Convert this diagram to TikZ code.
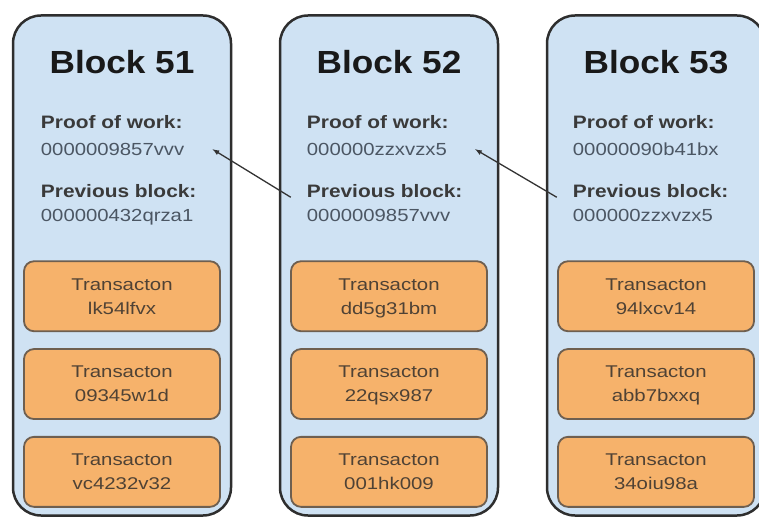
\documentclass[tikz,border=0pt]{standalone}
\usepackage{xcolor}
\usepackage{fontspec}
\setmainfont{Liberation Sans}[FakeStretch=1.1]
\newfontfamily\fieldfont{Liberation Sans}[FakeStretch=1.16]
\newfontfamily\txfont{Liberation Sans}[FakeStretch=1.2]
\usepackage{tikz}
\usetikzlibrary{positioning}
\usetikzlibrary{arrows}
\usetikzlibrary{calc}

\definecolor{blockblue}{HTML}{CFE2F3}
\definecolor{txorange}{HTML}{F6B26B}
\definecolor{txedge}{HTML}{6E5F50}
\definecolor{txtext}{HTML}{4F4235}
\definecolor{namegray}{HTML}{3A3A3A}
\definecolor{valgray}{HTML}{4B5663}

\begin{document}
\begin{tikzpicture}[x=1pt, y=1pt,
	block/.style = {draw=black!82, line width=2.5pt, fill=blockblue, rounded corners=28pt,
		minimum width=218pt, minimum height=500pt, inner sep=0pt},
	blocktitle/.style = {font=\fontsize{32}{36}\selectfont\bfseries, text=black!90, anchor=base, inner sep=0pt},
	fieldname/.style = {font=\fieldfont\fontsize{18}{20}\selectfont\bfseries, text=namegray, anchor=base west, inner sep=0pt},
	fieldval/.style = {font=\fieldfont\fontsize{17.5}{20}\selectfont, text=valgray, anchor=base west, inner sep=0pt},
	tx/.style = {draw=txedge, line width=1.8pt, fill=txorange, rounded corners=10pt,
		minimum width=196pt, minimum height=70pt, align=center, text depth=0pt,
		font=\txfont\fontsize{17}{24}\selectfont, text=txtext},
	prevlink/.style = {-latex, line width=1.3pt, draw=black!80}
]
\useasboundingbox (0,0) rectangle (759,520);
\clip (0,0) rectangle (759,520);

\node[block] (blk51) at (122,254.5) {};
\node[block] (blk52) at (389,254.5) {};
\node[block] (blk53) at (656,254.5) {};

\node[blocktitle] (title51) at ($(blk51.north)+(0,-59)$) {Block 51};
\node[blocktitle] (title52) at ($(blk52.north)+(0,-59)$) {Block 52};
\node[blocktitle] (title53) at ($(blk53.north)+(0,-59)$) {Block 53};

\node[fieldname] (pw51) at ($(blk51.north west)+(29,-114)$) {Proof of work:};
\node[fieldval] (pwv51) at ($(blk51.north west)+(29,-141)$) {0000009857vvv};
\node[fieldname] (pb51) at ($(blk51.north west)+(29,-183)$) {Previous block:};
\node[fieldval] (pbv51) at ($(blk51.north west)+(29,-207)$) {000000432qrza1};

\node[fieldname] (pw52) at ($(blk52.north west)+(28,-114)$) {Proof of work:};
\node[fieldval] (pwv52) at ($(blk52.north west)+(28,-141)$) {000000zzxvzx5};
\node[fieldname] (pb52) at ($(blk52.north west)+(28,-183)$) {Previous block:};
\node[fieldval] (pbv52) at ($(blk52.north west)+(28,-207)$) {0000009857vvv};

\node[fieldname] (pw53) at ($(blk53.north west)+(27,-114)$) {Proof of work:};
\node[fieldval] (pwv53) at ($(blk53.north west)+(27,-141)$) {00000090b41bx};
\node[fieldname] (pb53) at ($(blk53.north west)+(27,-183)$) {Previous block:};
\node[fieldval] (pbv53) at ($(blk53.north west)+(27,-207)$) {000000zzxvzx5};

\node[tx] (tx51a) at ($(blk51.north)+(0,-282)$) {Transacton\\lk54lfvx};
\node[tx, below=16pt of tx51a] (tx51b) {Transacton\\09345w1d};
\node[tx, below=16pt of tx51b] (tx51c) {Transacton\\vc4232v32};

\node[tx] (tx52a) at ($(blk52.north)+(0,-282)$) {Transacton\\dd5g31bm};
\node[tx, below=16pt of tx52a] (tx52b) {Transacton\\22qsx987};
\node[tx, below=16pt of tx52b] (tx52c) {Transacton\\001hk009};

\node[tx] (tx53a) at ($(blk53.north)+(0,-282)$) {Transacton\\94lxcv14};
\node[tx, below=16pt of tx53a] (tx53b) {Transacton\\abb7bxxq};
\node[tx, below=16pt of tx53b] (tx53c) {Transacton\\34oiu98a};

\draw[prevlink] ([xshift=-16pt]pb52.base west) -- ([xshift=28pt]pwv51.east);
\draw[prevlink] ([xshift=-16pt]pb53.base west) -- ([xshift=28pt]pwv52.east);
\end{tikzpicture}
\end{document}
